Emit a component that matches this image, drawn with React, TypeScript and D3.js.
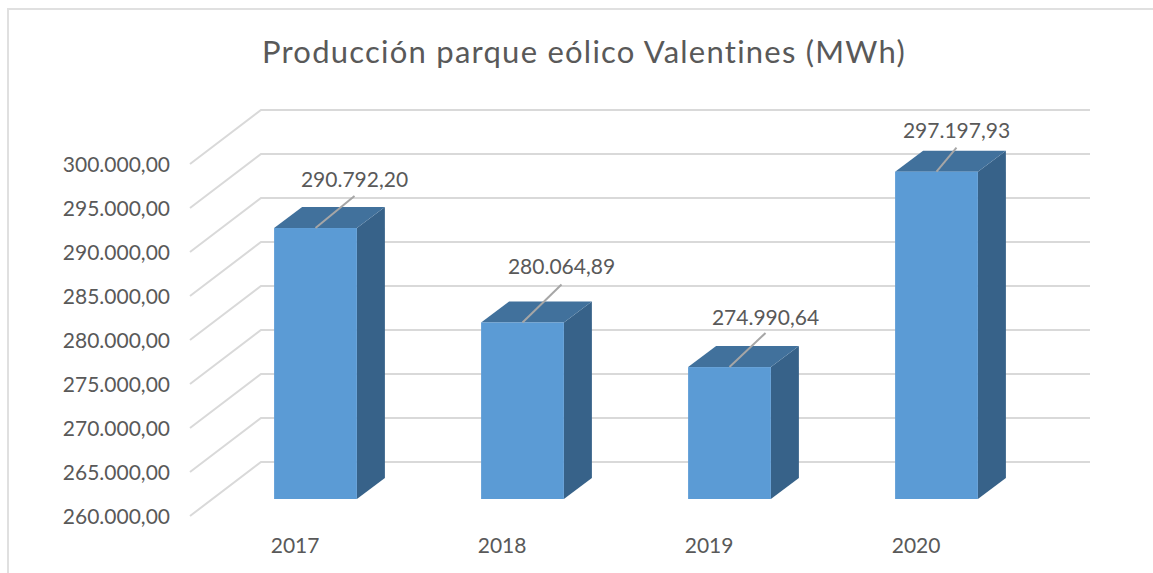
import React from "react";
import * as d3 from "d3";

const years = ["2017", "2018", "2019", "2020"];
const production = [290792.2, 280064.89, 274990.64, 297197.93];
const dataLabels = ["290.792,20", "280.064,89", "274.990,64", "297.197,93"];
const yTicks = [260000, 265000, 270000, 275000, 280000, 285000, 290000, 295000, 300000];

// leader line offset from the bar top, excel moved each label by hand
const leaderDx = [39, 39, 36, 20];
const leaderDy = [-32, -38, -34, -24];
const labelGap = [-9, -10, -8, -10];

const W = 1153;
const H = 573;
const fontFamily = "Lato, 'Open Sans', sans-serif";
const textColor = "#595959";
const gridColor = "#d9d9d9";

// oblique floor of the excel 3d chart
const floorDx = 71;
const floorDy = -54;

const y = d3.scaleLinear().domain([260000, 300000]).range([516, 164]);
const x = d3.scaleBand().domain(years).range([212, 1040]).paddingInner(0.6).paddingOuter(0.3);

const fmt = d3.formatLocale({
  decimal: ",",
  thousands: ".",
  grouping: [3],
  currency: ["", ""],
}).format(",.2f");

// front face sits 17px up the depth, bar depth is 28px
const frontDy = -17;
const depthDx = 28;
const depthDy = -21;

const App = () => {
  const line = d3.line();
  return (
    <svg
      width={W}
      height={H}
      style={{ position: "absolute", left: 0, top: 0, fontFamily }}
    >
      <rect width={W} height={H} fill="#fff" />
      <path d="M8,573V9H1153" fill="none" stroke="#e0e0e0" strokeWidth={2} />
      <text
        x={584}
        y={63}
        textAnchor="middle"
        fontSize={31}
        letterSpacing={1.24}
        fill={textColor}
      >
        Producción parque eólico Valentines (MWh)
      </text>

      {yTicks.map((t) => (
        <g key={t}>
          <path
            d={line([
              [190, y(t)],
              [190 + floorDx, y(t) + floorDy],
              [1090, y(t) + floorDy],
            ]) as string}
            fill="none"
            stroke={gridColor}
            strokeWidth={2}
          />
          <text x={170} y={y(t) + 8} textAnchor="end" fontSize={21} fill={textColor}>
            {fmt(t)}
          </text>
        </g>
      ))}

      {years.map((yr, i) => {
        const left = x(yr) as number;
        const bw = x.bandwidth();
        const right = left + bw;
        const top = y(production[i]) + frontDy;
        const bottom = y(260000) + frontDy;
        const cx = left + bw / 2;
        const endX = cx + leaderDx[i];
        const endY = top + leaderDy[i];
        return (
          <g key={yr}>
            <path
              d={`M${right},${top}L${right + depthDx},${top + depthDy}V${bottom + depthDy}L${right},${bottom}Z`}
              fill="#376289"
            />
            <path
              d={`M${left},${top}L${left + depthDx},${top + depthDy}H${right + depthDx}L${right},${top}Z`}
              fill="#41719c"
            />
            <rect x={left} y={top} width={bw} height={bottom - top} fill="#5b9bd5" />
            <line x1={cx} y1={top} x2={endX} y2={endY} stroke="#a6a6a6" strokeWidth={2} />
            <text
              x={endX}
              y={endY + labelGap[i]}
              textAnchor="middle"
              fontSize={21}
              fill={textColor}
            >
              {dataLabels[i]}
            </text>
            <text x={left + 21} y={553} textAnchor="middle" fontSize={21} fill={textColor}>
              {yr}
            </text>
          </g>
        );
      })}
    </svg>
  );
};

export default App;
